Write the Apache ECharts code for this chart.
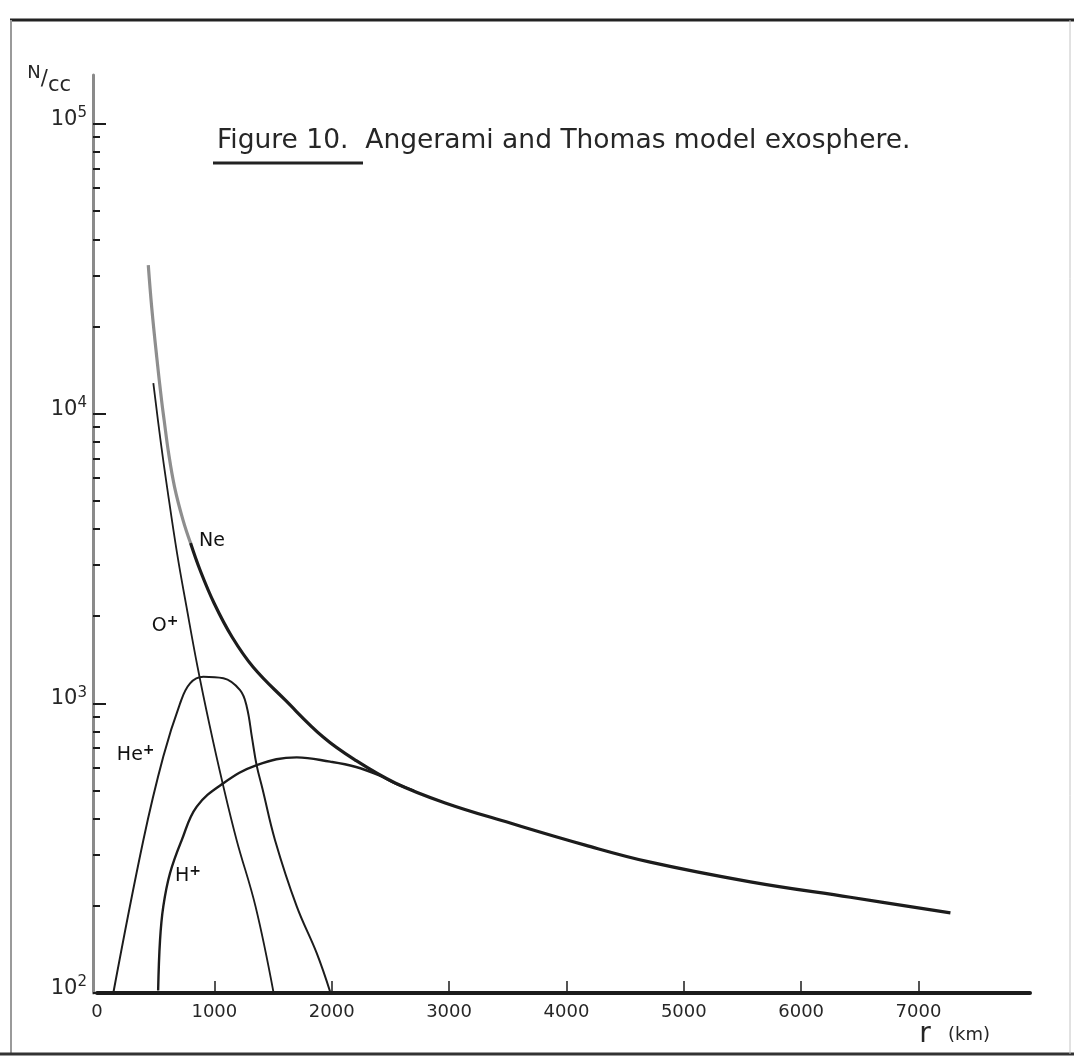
<!DOCTYPE html>
<html>
<head>
<meta charset="utf-8">
<title>Angerami and Thomas model exosphere</title>
<script src="https://cdn.jsdelivr.net/npm/echarts@6/dist/echarts.min.js"></script>
<style>
  html, body { margin: 0; padding: 0; background: #ffffff; }
  #chart { width: 1074px; height: 1059px; }
</style>
</head>
<body>
<div id="chart"></div>
<script>
// Ion densities (N/cc) against geocentric altitude r (km)
const neProfile = [
  [437, 32580], [466, 23340], [509, 15680], [550, 11140], [572, 9500],
  [610, 7310], [661, 5580], [733, 4290], [797, 3575], [878, 2885],
  [997, 2220], [1151, 1694], [1330, 1335], [1603, 1027], [1927, 765],
  [2200, 637], [2541, 531], [2967, 453], [3521, 386], [4160, 324],
  [4714, 283], [5567, 242], [6419, 214], [7272, 189]
];
const oPlusProfile = [
  [480, 12750], [541, 8110], [597, 5580], [682, 3300], [763, 2150],
  [857, 1335], [959, 842], [1070, 531], [1190, 337], [1352, 198], [1505, 100]
];
const hePlusProfile = [
  [139, 100], [395, 337], [565, 655], [708, 1000], [793, 1172], [906, 1235],
  [1077, 1220], [1219, 1110], [1276, 974], [1321, 760], [1360, 612],
  [1411, 505], [1517, 337], [1702, 199], [1873, 137], [1990, 100]
];
const hPlusProfile = [
  [521, 102], [537, 152], [565, 199], [622, 259], [722, 337], [850, 440],
  [1077, 530], [1361, 612], [1702, 651], [1986, 629], [2200, 604],
  [2400, 565], [2541, 529], [2700, 500]
];

// Curve labels: [r, N, name, charge]
const curveLabels = [
  [980, 3660, 'Ne', ''],
  [580, 1860, 'O', '+'],
  [330, 668, 'He', '+'],
  [775, 255, 'H', '+']
];

// Axis ticks
const rTickValues = [1000, 2000, 3000, 4000, 5000, 6000, 7000];
const rLabelValues = [0, 1000, 2000, 3000, 4000, 5000, 6000, 7000];
const decadeValues = [100, 1000, 10000, 100000];
const subDecadeValues = [];
[100, 1000, 10000].forEach(d => {
  for (let k = 2; k <= 9; k++) subDecadeValues.push(k * d);
});

// The electron curve is traced in grey near its steep top, solid below
const NE_GREY_UNTIL = 797;
const neUpper = neProfile.filter(p => p[0] <= NE_GREY_UNTIL);
const neLower = neProfile.filter(p => p[0] >= NE_GREY_UNTIL);

const FONT = 'DejaVu Sans';
const INK = '#1c1c1c';
const TEXT = '#262626';

const chart = echarts.init(document.getElementById('chart'), null, { renderer: 'canvas' });

const lineBase = {
  type: 'line',
  showSymbol: false,
  symbol: 'none',
  smooth: 0.4,
  silent: true
};

const yAxisCommon = {
  type: 'log',
  logBase: 10,
  min: 100,
  max: 147600,
  position: 'left',
  offset: 4,
  splitLine: { show: false }
};

chart.setOption({
  backgroundColor: '#ffffff',
  animation: false,
  title: {
    text: 'Figure 10.  Angerami and Thomas model exosphere.',
    left: 212,
    top: 123,
    textStyle: { fontFamily: FONT, fontSize: 26.5, fontWeight: 'normal', color: TEXT }
  },
  grid: { left: 97, right: 44, top: 75, bottom: 66, containLabel: false },
  xAxis: {
    type: 'value',
    min: 0,
    max: 7950,
    interval: 1000,
    name: '{r|r}{u|   (km)}',
    nameLocation: 'end',
    nameGap: -40,
    nameTextStyle: {
      align: 'right',
      verticalAlign: 'top',
      padding: [28, 0, 0, 0],
      rich: {
        r: { fontFamily: FONT, fontSize: 28, color: TEXT },
        u: { fontFamily: FONT, fontSize: 18, color: TEXT }
      }
    },
    axisLine: { show: true, onZero: false, lineStyle: { color: INK, width: 4 } },
    axisTick: {
      show: true, inside: true, length: 12,
      customValues: rTickValues,
      lineStyle: { color: INK, width: 1.5 }
    },
    axisLabel: {
      customValues: rLabelValues,
      margin: 10,
      formatter: v => String(v),
      fontFamily: FONT, fontSize: 18, color: TEXT
    },
    splitLine: { show: false }
  },
  yAxis: [
    Object.assign({}, yAxisCommon, {
      name: '{n|N}{s|/}{c|cc}',
      nameLocation: 'end',
      nameGap: 0,
      nameTextStyle: {
        align: 'right',
        verticalAlign: 'middle',
        padding: [10, 22, 0, 0],
        rich: {
          n: { fontFamily: FONT, fontSize: 18, color: TEXT, verticalAlign: 'top', lineHeight: 32 },
          s: { fontFamily: FONT, fontSize: 21, color: TEXT, lineHeight: 32 },
          c: { fontFamily: FONT, fontSize: 21, color: TEXT, verticalAlign: 'bottom', lineHeight: 32 }
        }
      },
      axisLine: { show: true, onZero: false, lineStyle: { color: '#8a8a8a', width: 3 } },
      axisTick: {
        show: true, inside: true, length: 13,
        customValues: decadeValues,
        lineStyle: { color: INK, width: 2 }
      },
      axisLabel: {
        customValues: decadeValues,
        margin: 6,
        padding: [0, 0, 12, 0],
        formatter: v => '{b|10}{e|' + Math.round(Math.log10(v)) + '}',
        rich: {
          b: { fontFamily: FONT, fontSize: 21, color: TEXT, verticalAlign: 'bottom', lineHeight: 24, padding: [8, 0, 0, 0] },
          e: { fontFamily: FONT, fontSize: 15, color: TEXT, verticalAlign: 'top', lineHeight: 15 }
        }
      }
    }),
    Object.assign({}, yAxisCommon, {
      axisLine: { show: false, onZero: false },
      axisTick: {
        show: true, inside: true, length: 7,
        customValues: subDecadeValues,
        lineStyle: { color: INK, width: 2 }
      },
      axisLabel: { show: false }
    })
  ],
  series: [
    Object.assign({}, lineBase, {
      name: 'Ne',
      data: neUpper,
      lineStyle: { color: '#8e8e8e', width: 3.2 },
      z: 3
    }),
    Object.assign({}, lineBase, {
      name: 'Ne',
      data: neLower,
      lineStyle: { color: INK, width: 3.2 },
      z: 3
    }),
    Object.assign({}, lineBase, {
      name: 'O+',
      data: oPlusProfile,
      lineStyle: { color: INK, width: 1.8 }
    }),
    Object.assign({}, lineBase, {
      name: 'He+',
      data: hePlusProfile,
      lineStyle: { color: INK, width: 2 }
    }),
    Object.assign({}, lineBase, {
      name: 'H+',
      data: hPlusProfile,
      lineStyle: { color: INK, width: 2.4 }
    }),
    {
      name: 'labels',
      type: 'scatter',
      silent: true,
      symbolSize: 0,
      z: 10,
      itemStyle: { color: '#000', opacity: 1 },
      data: curveLabels,
      label: {
        show: true,
        position: 'inside',
        color: '#111',
        opacity: 1,
        textBorderWidth: 0,
        textShadowBlur: 0,
        formatter: p => '{t|' + p.data[2] + '}' + (p.data[3] ? '{p|' + p.data[3] + '}' : ''),
        rich: {
          t: { fontFamily: FONT, fontSize: 19, color: '#111', textBorderWidth: 0, verticalAlign: 'bottom', lineHeight: 21, padding: [5, 0, 0, 0] },
          p: { fontFamily: FONT, fontSize: 14, fontWeight: 'bold', color: '#111', textBorderWidth: 0, verticalAlign: 'top', lineHeight: 14 }
        }
      }
    }
  ],
  graphic: [
    // page frame
    { type: 'line', shape: { x1: 10, y1: 20, x2: 1074, y2: 20 }, style: { stroke: '#222', lineWidth: 3 }, silent: true },
    { type: 'line', shape: { x1: 11, y1: 20, x2: 11, y2: 1055 }, style: { stroke: '#9a9a9a', lineWidth: 2 }, silent: true },
    { type: 'line', shape: { x1: 0, y1: 1054, x2: 1074, y2: 1054 }, style: { stroke: '#333', lineWidth: 3 }, silent: true },
    { type: 'line', shape: { x1: 1070, y1: 20, x2: 1070, y2: 1054 }, style: { stroke: '#c4c4c4', lineWidth: 1 }, silent: true },
    // underline beneath the figure number
    { type: 'line', shape: { x1: 213, y1: 163, x2: 363, y2: 163 }, style: { stroke: '#222', lineWidth: 3 }, silent: true }
  ]
});
</script>
</body>
</html>
